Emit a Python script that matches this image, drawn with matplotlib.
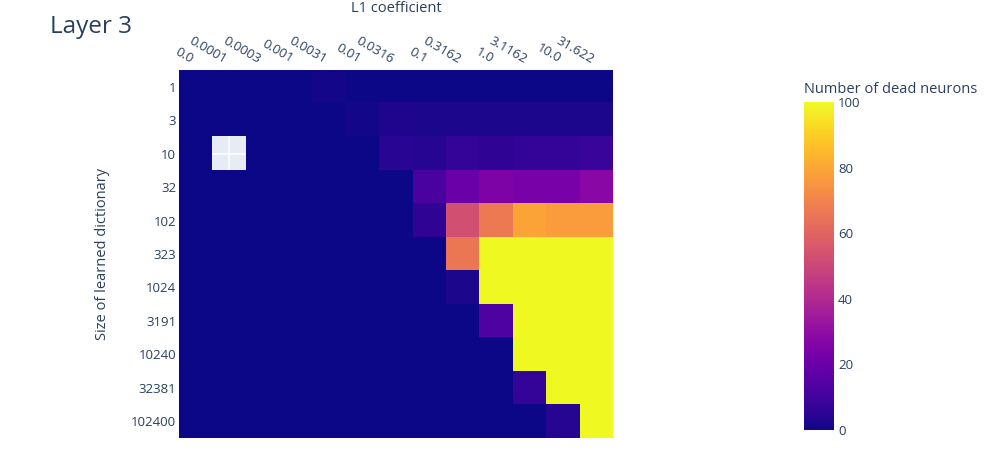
import numpy as np
import matplotlib
matplotlib.use("Agg")
import matplotlib.pyplot as plt

plt.rcParams['font.family'] = ['Open Sans', 'DejaVu Sans']

l1_coefficients = ["0.0", "0.0001", "0.0003", "0.001", "0.0031", "0.01", "0.0316",
                   "0.1", "0.3162", "1.0", "3.1162", "10.0", "31.622"]
dict_sizes = ["1", "3", "10", "32", "102", "323", "1024", "3191", "10240", "32381", "102400"]
nan = np.nan
dead_neurons = [
    [0, 0, 0, 0, 1, 0, 0, 0, 0, 0, 0, 0, 0],
    [0, 0, 0, 0, 0, 1, 3, 2, 2, 2, 2, 2, 2],
    [0, nan, 0, 0, 0, 0, 5, 4, 7, 6, 7, 7, 8],
    [0, 0, 0, 0, 0, 0, 0, 12, 20, 25, 24, 24, 28],
    [0, 0, 0, 0, 0, 0, 0, 6, 53, 67, 79, 77, 77],
    [0, 0, 0, 0, 0, 0, 0, 0, 66, 100, 100, 100, 100],
    [0, 0, 0, 0, 0, 0, 0, 0, 2, 100, 100, 100, 100],
    [0, 0, 0, 0, 0, 0, 0, 0, 0, 13, 100, 100, 100],
    [0, 0, 0, 0, 0, 0, 0, 0, 0, 0, 100, 100, 100],
    [0, 0, 0, 0, 0, 0, 0, 0, 0, 0, 7, 100, 100],
    [0, 0, 0, 0, 0, 0, 0, 0, 0, 0, 0, 4, 100],
]

TXT = '#2a3f5f'
fig = plt.figure(figsize=(10, 4.5), dpi=100)
ax = fig.add_axes([0.179, 0.0267, 0.434, 0.8178])
ax.set_facecolor('#E5ECF6')
ax.set_axisbelow(True)
ax.grid(True, color='white', linewidth=1.2, zorder=0)

data = np.ma.masked_invalid(np.array(dead_neurons, dtype=float))
cmap = plt.get_cmap('plasma').copy()
cmap.set_bad((0, 0, 0, 0))
im = ax.imshow(data, cmap=cmap, vmin=0, vmax=100, aspect='auto',
               interpolation='nearest', zorder=2)

ax.set_xticks(range(len(l1_coefficients)))
ax.set_xticklabels(l1_coefficients, rotation=-30, ha='right', va='bottom',
                   fontsize=9.5, color=TXT)
ax.set_yticks(range(len(dict_sizes)))
ax.set_yticklabels(dict_sizes, fontsize=9.5, color=TXT)
ax.xaxis.tick_top()
ax.xaxis.set_label_position('top')
ax.tick_params(axis='both', length=0)
ax.tick_params(axis='x', pad=3)
ax.tick_params(axis='y', pad=2)
for s in ax.spines.values():
    s.set_visible(False)

fig.text(0.396, 0.98, 'L1 coefficient', ha='center', va='center', fontsize=10.5, color=TXT)
fig.text(0.103, 0.435, 'Size of learned dictionary', ha='center', va='center',
         rotation=90, fontsize=10.5, color=TXT)
fig.text(0.05, 0.94, 'Layer 3', ha='left', va='center', fontsize=17.5, color=TXT)

cax = fig.add_axes([0.804, 0.0444, 0.030, 0.729])
cb = fig.colorbar(im, cax=cax)
cb.outline.set_visible(False)
cb.set_ticks([0, 20, 40, 60, 80, 100])
cax.tick_params(length=0, pad=3, labelsize=9.5, labelcolor=TXT)
fig.text(0.804, 0.802, 'Number of dead neurons', ha='left', va='center',
         fontsize=10.5, color=TXT)

fig.savefig('out.png', dpi=100)
